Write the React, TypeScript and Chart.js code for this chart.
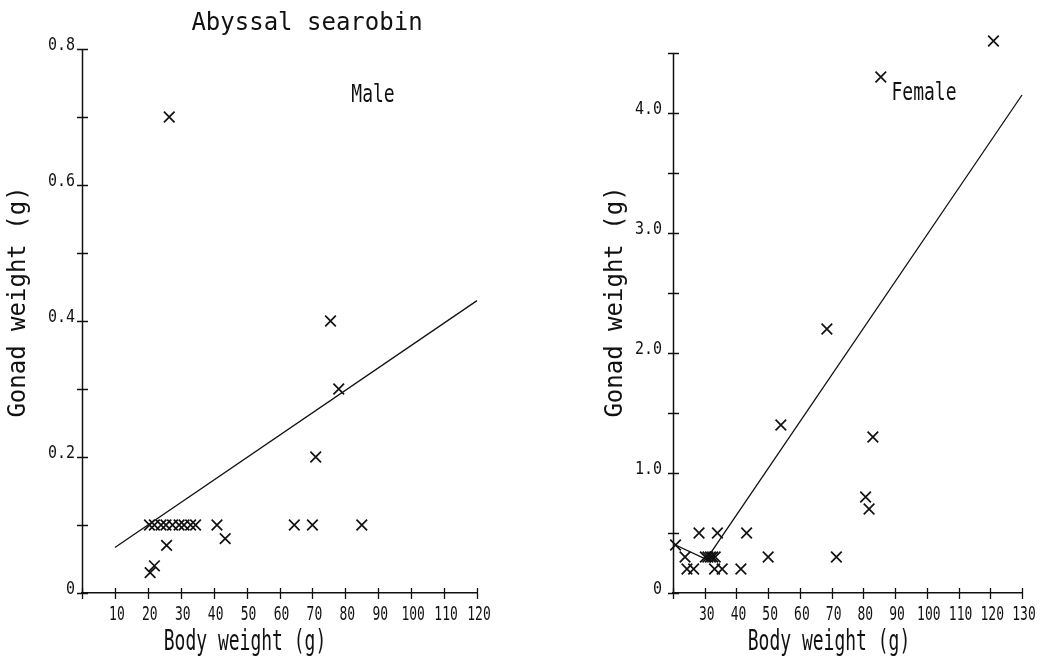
import React, { useEffect, useRef } from "react";
import { Chart, registerables } from "chart.js";

Chart.register(...registerables);

// ---------- DATA ----------
const chartTitle = "Abyssal searobin";
const xAxisTitle = "Body weight (g)";
const yAxisTitle = "Gonad weight (g)";

// Male panel
const maleLabel = "Male";
const maleBodyWeight = [26.5, 75.5, 78, 71, 20.5, 22, 24, 25.5, 27.5, 29.5, 31, 33, 34.5, 41, 64.5, 70, 85, 43.5, 25.7, 20.7, 22];
const maleGonadWeight = [0.7, 0.4, 0.3, 0.2, 0.1, 0.1, 0.1, 0.1, 0.1, 0.1, 0.1, 0.1, 0.1, 0.1, 0.1, 0.1, 0.1, 0.08, 0.07, 0.03, 0.04];
const maleFitX = [10, 120];
const maleFitY = [0.067, 0.43];
const maleXTickLabels = ["", "10", "20", "30", "40", "50", "60", "70", "80", "90", "100", "110", "120"];
const maleYTickLabels = ["0", "", "0.2", "", "0.4", "", "0.6", "", "0.8"];

// Female panel
const femaleLabel = "Female";
const femaleBodyWeight = [20.8, 23.8, 24.4, 26.5, 28.2, 34, 30.2, 31, 31.8, 32.5, 33.3, 33.1, 35.5, 41.4, 43.2, 50, 54, 68.5, 71.5, 80.7, 81.8, 83, 85.5, 121];
const femaleGonadWeight = [0.4, 0.3, 0.2, 0.2, 0.5, 0.5, 0.3, 0.3, 0.3, 0.3, 0.3, 0.2, 0.2, 0.2, 0.5, 0.3, 1.4, 2.2, 0.3, 0.8, 0.7, 1.3, 4.3, 4.6];
const femaleFitX = [20.8, 30.5, 130];
const femaleFitY = [0.4, 0.28, 4.15];
const femaleXTickLabels = ["", "30", "40", "50", "60", "70", "80", "90", "100", "110", "120", "130"];
const femaleYTickLabels = ["0", "", "1.0", "", "2.0", "", "3.0", "", "4.0", ""];

// ---------- STYLE ----------
const FONT = "'DejaVu Sans Mono', 'Liberation Mono', monospace";
const INK = "#111";

// Y axis line, cross-shaped tick marks and plotter-style tick labels, placed from the scales
const axisDecorPlugin = {
  id: "axisDecor",
  afterDraw(chart: any, _args: any, opts: any) {
    const { ctx, chartArea, scales } = chart;
    const xs = scales.x;
    const ys = scales.y;
    ctx.save();
    ctx.strokeStyle = INK;

    // y axis line from first to last tick
    const yTop = ys.getPixelForValue(ys.ticks[ys.ticks.length - 1].value);
    const yBot = ys.getPixelForValue(ys.ticks[0].value);
    ctx.lineWidth = 1.5;
    ctx.beginPath();
    ctx.moveTo(chartArea.left + 0.5, yTop);
    ctx.lineTo(chartArea.left + 0.5, yBot);
    ctx.stroke();

    ctx.lineWidth = 1.3;
    ctx.beginPath();
    xs.ticks.forEach((t: any) => {
      const px = Math.round(xs.getPixelForValue(t.value)) + 0.5;
      ctx.moveTo(px, chartArea.bottom - 5);
      ctx.lineTo(px, chartArea.bottom + 6);
    });
    ys.ticks.forEach((t: any) => {
      const py = Math.round(ys.getPixelForValue(t.value)) + 0.5;
      ctx.moveTo(chartArea.left - 5, py);
      ctx.lineTo(chartArea.left + 6, py);
    });
    ctx.stroke();

    ctx.fillStyle = INK;
    ctx.font = `13px ${FONT}`;
    xs.ticks.forEach((t: any, i: number) => {
      const label = opts.xLabels[i];
      if (!label) return;
      const px = xs.getPixelForValue(t.value) + 2;
      ctx.save();
      ctx.textAlign = "center";
      ctx.textBaseline = "middle";
      ctx.translate(px, chartArea.bottom + 22);
      ctx.scale(1, 1.55);
      ctx.fillText(label, 0, 0);
      ctx.restore();
    });
    ctx.font = `15px ${FONT}`;
    ys.ticks.forEach((t: any, i: number) => {
      const label = opts.yLabels[i];
      if (!label) return;
      const py = ys.getPixelForValue(t.value) + 1;
      ctx.save();
      ctx.textAlign = "right";
      ctx.textBaseline = "alphabetic";
      ctx.translate(chartArea.left - opts.yGap, py);
      ctx.scale(1, 1.2);
      ctx.fillText(label, 0, 0);
      ctx.restore();
    });
    ctx.restore();
  },
};

const textPlugin = {
  id: "panelText",
  afterDraw(chart: any, _args: any, opts: any) {
    const { ctx } = chart;
    (opts.items || []).forEach((it: any) => {
      ctx.save();
      ctx.fillStyle = INK;
      ctx.font = `${it.size}px ${FONT}`;
      ctx.textAlign = "center";
      ctx.textBaseline = "middle";
      ctx.translate(it.x, it.y);
      if (it.rotate) ctx.rotate(it.rotate);
      ctx.scale(1, it.sy || 1);
      ctx.fillText(it.text, 0, 0);
      ctx.restore();
    });
  },
};

function makeConfig(p: any) {
  return {
    type: "scatter",
    data: {
      datasets: [
        {
          data: p.bx.map((x: number, i: number) => ({ x, y: p.gy[i] })),
          pointStyle: "crossRot",
          pointRadius: 7.5,
          pointBorderWidth: 1.7,
          borderColor: INK,
          backgroundColor: INK,
          showLine: false,
          clip: false,
        },
        {
          data: p.fx.map((x: number, i: number) => ({ x, y: p.fy[i] })),
          showLine: true,
          pointRadius: 0,
          borderColor: INK,
          borderWidth: 1.3,
          tension: 0,
          clip: false,
        },
      ],
    },
    options: {
      responsive: false,
      animation: false,
      events: [],
      layout: { padding: p.padding },
      plugins: {
        legend: { display: false },
        tooltip: { enabled: false },
        panelText: { items: p.texts },
        axisDecor: { xLabels: p.xTickLabels, yLabels: p.yTickLabels, yGap: p.yGap },
      },
      scales: {
        x: {
          type: "linear",
          min: p.xMin,
          max: p.xMax,
          afterFit: (s: any) => { s.height = 69; },
          afterBuildTicks: (s: any) => {
            s.ticks = p.xTickLabels.map((_: string, i: number) => ({ value: p.xMin + i * p.xStep }));
          },
          grid: { display: false, drawTicks: false },
          border: { display: true, color: INK, width: 1.5 },
          ticks: { display: false },
        },
        y: {
          type: "linear",
          min: 0,
          max: p.yMax,
          afterFit: (s: any) => { s.width = p.yWidth; },
          afterBuildTicks: (s: any) => {
            s.ticks = p.yTickLabels.map((_: string, i: number) => ({ value: i * p.yStep }));
          },
          grid: { display: false, drawTicks: false },
          border: { display: false },
          ticks: { display: false },
        },
      },
    },
    plugins: [axisDecorPlugin, textPlugin],
  };
}

function Panel({ left, width, params }: { left: number; width: number; params: any }) {
  const ref = useRef<HTMLCanvasElement | null>(null);
  useEffect(() => {
    if (!ref.current) return;
    const chart = new Chart(ref.current, makeConfig(params) as any);
    return () => chart.destroy();
  }, []);
  return (
    <canvas
      ref={ref}
      width={width}
      height={662}
      style={{ position: "absolute", left, top: 0, width, height: 662, display: "block" }}
    />
  );
}

const maleParams = {
  bx: maleBodyWeight,
  gy: maleGonadWeight,
  fx: maleFitX,
  fy: maleFitY,
  xMin: 0,
  xMax: 120,
  xStep: 10,
  yMax: 0.8,
  yStep: 0.1,
  xTickLabels: maleXTickLabels,
  yTickLabels: maleYTickLabels,
  yWidth: 82,
  yGap: 7,
  padding: { left: 0, top: 49, right: 53, bottom: 0 },
  texts: [
    { text: chartTitle, x: 307, y: 24, size: 24 },
    { text: maleLabel, x: 373, y: 95, size: 18, sy: 1.4 },
    { text: xAxisTitle, x: 245, y: 643, size: 18, sy: 1.55 },
    { text: yAxisTitle, x: 19, y: 302, size: 24, rotate: -Math.PI / 2 },
  ],
};

const femaleParams = {
  bx: femaleBodyWeight,
  gy: femaleGonadWeight,
  fx: femaleFitX,
  fy: femaleFitY,
  xMin: 20,
  xMax: 130,
  xStep: 10,
  yMax: 4.75,
  yStep: 0.5,
  xTickLabels: femaleXTickLabels,
  yTickLabels: femaleYTickLabels,
  yWidth: 143,
  yGap: 11,
  padding: { left: 0, top: 23, right: 40, bottom: 0 },
  texts: [
    { text: femaleLabel, x: 394, y: 93, size: 18, sy: 1.4 },
    { text: xAxisTitle, x: 299, y: 643, size: 18, sy: 1.55 },
    { text: yAxisTitle, x: 86, y: 302, size: 24, rotate: -Math.PI / 2 },
  ],
};

export default function App() {
  return (
    <div style={{ position: "absolute", left: 0, top: 0, width: 1062, height: 662, background: "#fff" }}>
      <Panel left={0} width={530} params={maleParams} />
      <Panel left={530} width={532} params={femaleParams} />
    </div>
  );
}
